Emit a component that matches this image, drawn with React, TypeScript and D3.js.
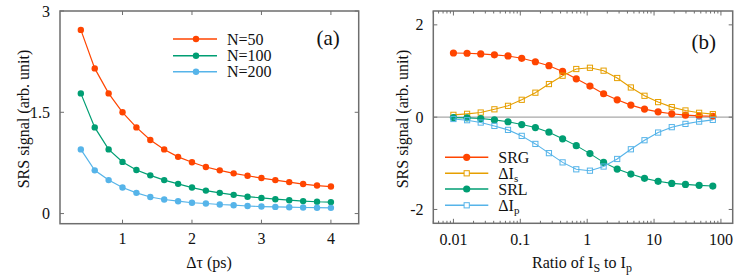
import React from "react";
import * as d3 from "d3";

// ---------- Panel (a) data ----------
const tauValues = [0.4, 0.6, 0.8, 1.0, 1.2, 1.4, 1.6, 1.8, 2.0, 2.2, 2.4, 2.6, 2.8, 3.0, 3.2, 3.4, 3.6, 3.8, 4.0];
const n50 = [2.72, 2.15, 1.78, 1.5, 1.276, 1.09, 0.95, 0.84, 0.76, 0.69, 0.64, 0.596, 0.56, 0.526, 0.496, 0.466, 0.437, 0.415, 0.4];
const n100 = [1.78, 1.276, 0.95, 0.765, 0.645, 0.566, 0.496, 0.44, 0.385, 0.34, 0.307, 0.277, 0.25, 0.232, 0.213, 0.198, 0.185, 0.175, 0.17];
const n200 = [0.95, 0.64, 0.496, 0.385, 0.307, 0.245, 0.208, 0.183, 0.16, 0.149, 0.134, 0.124, 0.112, 0.104, 0.099, 0.094, 0.09, 0.087, 0.085];
const seriesA = [
  { name: "N=50", values: n50, color: "#ff4500" },
  { name: "N=100", values: n100, color: "#009e73" },
  { name: "N=200", values: n200, color: "#56b4e9" },
];
const xTicksA = [1, 2, 3, 4];
const yTicksA = [0, 1.5, 3];
const yTickLabelsA = ["0", "1.5", "3"];

// ---------- Panel (b) data ----------
const ratioValues = [0.01, 0.016, 0.0256, 0.041, 0.0655, 0.105, 0.168, 0.268, 0.429, 0.687, 1.1, 1.76, 2.81, 4.5, 7.2, 11.5, 18.4, 29.5, 47.2, 75.6];
const srg = [1.39, 1.385, 1.37, 1.35, 1.326, 1.275, 1.2, 1.115, 0.99, 0.83, 0.674, 0.507, 0.376, 0.261, 0.174, 0.115, 0.072, 0.043, 0.028, 0.02];
const dIs = [0.05, 0.072, 0.1, 0.17, 0.245, 0.376, 0.53, 0.717, 0.898, 1.043, 1.07, 1.007, 0.848, 0.643, 0.463, 0.326, 0.217, 0.145, 0.094, 0.065];
const srl = [-0.01, -0.015, -0.03, -0.06, -0.1, -0.16, -0.226, -0.326, -0.47, -0.617, -0.79, -0.98, -1.124, -1.233, -1.326, -1.39, -1.435, -1.457, -1.478, -1.493];
const dIp = [-0.04, -0.066, -0.117, -0.19, -0.276, -0.406, -0.58, -0.78, -0.98, -1.13, -1.16, -1.07, -0.906, -0.696, -0.5, -0.334, -0.217, -0.146, -0.096, -0.059];
const seriesB = [
  { name: "SRG", sub: "", values: srg, color: "#ff4500", marker: "circle" },
  { name: "ΔI", sub: "s", values: dIs, color: "#e69f00", marker: "square" },
  { name: "SRL", sub: "", values: srl, color: "#009e73", marker: "circle" },
  { name: "ΔI", sub: "p", values: dIp, color: "#56b4e9", marker: "square" },
];
const xTicksB = [0.01, 0.1, 1, 10, 100];
const xTickLabelsB = ["0.01", "0.1", "1", "10", "100"];
const yTicksB = [-2, 0, 2];

const FONT = "Liberation Serif, Times New Roman, DejaVu Serif, serif";
const FRAME = "#6e6e6e";
const txt = { fontFamily: FONT };

export default function App() {
  // Panel (a) scales
  const ax = d3.scaleLinear().domain([0.1, 4.4]).range([60, 358.7]);
  const ay = d3.scaleLinear().domain([-0.15, 3]).range([223.7, 11]);
  const lineA = d3.line<number>().x((_, i) => ax(tauValues[i])).y((v) => ay(v));

  // Panel (b) scales
  const bx = d3.scaleLog().domain([0.005, 150]).range([433.3, 732.7]);
  const by = d3.scaleLinear().domain([-2.3, 2.3]).range([223.3, 11]);
  const lineB = d3.line<number>().x((_, i) => bx(ratioValues[i])).y((v) => by(v));

  const minorB: number[] = [];
  for (let e = -3; e <= 2; e++) {
    for (let m = 2; m <= 9; m++) {
      const v = m * Math.pow(10, e);
      if (v >= 0.005 && v <= 150) minorB.push(v);
    }
  }

  const [ax0, ax1] = ax.range();
  const [ay0, ay1] = ay.range();
  const [bx0, bx1] = bx.range();
  const [by0, by1] = by.range();

  const legendA = [39, 55.7, 71.7];
  const legendB = [157.3, 173.3, 189, 205.3];

  return (
    <svg width={747} height={280} style={{ position: "absolute", left: 0, top: 0, background: "#fff", fontFamily: FONT }}>
      {/* ---------------- Panel (a) ---------------- */}
      <g>
        {xTicksA.map((t) => (
          <g key={"xa" + t}>
            <line x1={ax(t)} x2={ax(t)} y1={ay0} y2={ay0 - 4} stroke={FRAME} strokeWidth={1} />
            <line x1={ax(t)} x2={ax(t)} y1={ay1} y2={ay1 + 4} stroke={FRAME} strokeWidth={1} />
            <text style={txt} x={ax(t)} y={244} textAnchor="middle" fontSize={16} fill="#111">{t}</text>
          </g>
        ))}
        {yTicksA.map((t, i) => (
          <g key={"ya" + t}>
            <line x1={ax0} x2={ax0 + 4} y1={ay(t)} y2={ay(t)} stroke={FRAME} strokeWidth={1} />
            <line x1={ax1} x2={ax1 - 4} y1={ay(t)} y2={ay(t)} stroke={FRAME} strokeWidth={1} />
            <text style={txt} x={50} y={ay(t)} dy="0.35em" textAnchor="end" fontSize={16} fill="#111">{yTickLabelsA[i]}</text>
          </g>
        ))}
        {seriesA.map((s) => (
          <g key={s.name}>
            <path d={lineA(s.values) || ""} fill="none" stroke={s.color} strokeWidth={1.2} />
            {s.values.map((v, i) => (
              <circle key={i} cx={ax(tauValues[i])} cy={ay(v)} r={3.2} fill={s.color} />
            ))}
          </g>
        ))}
        <rect x={ax0} y={ay1} width={ax1 - ax0} height={ay0 - ay1} fill="none" stroke={FRAME} strokeWidth={1.5} />
        {seriesA.map((s, i) => (
          <g key={"la" + s.name}>
            <line x1={173} x2={217} y1={legendA[i]} y2={legendA[i]} stroke={s.color} strokeWidth={1.6} />
            <circle cx={196} cy={legendA[i]} r={3.2} fill={s.color} />
            <text style={txt} x={227} y={legendA[i]} dy="0.35em" fontSize={16} fill="#111">{s.name}</text>
          </g>
        ))}
        <text style={txt} x={316.5} y={45} fontSize={21} fill="#111">(a)</text>
        <text style={txt} transform="translate(29,119) rotate(-90)" textAnchor="middle" fontSize={16} fill="#111">SRS signal (arb. unit)</text>
        <text style={txt} x={209} y={268} textAnchor="middle" fontSize={16} fill="#111">Δτ (ps)</text>
      </g>

      {/* ---------------- Panel (b) ---------------- */}
      <g>
        <line x1={bx0} x2={bx1} y1={by(0)} y2={by(0)} stroke="#a8a8a8" strokeWidth={1.2} />
        {minorB.map((t) => (
          <g key={"mb" + t}>
            <line x1={bx(t)} x2={bx(t)} y1={by0} y2={by0 - 2.5} stroke={FRAME} strokeWidth={1} />
            <line x1={bx(t)} x2={bx(t)} y1={by1} y2={by1 + 2.5} stroke={FRAME} strokeWidth={1} />
          </g>
        ))}
        {xTicksB.map((t, i) => (
          <g key={"xb" + t}>
            <line x1={bx(t)} x2={bx(t)} y1={by0} y2={by0 - 4.5} stroke={FRAME} strokeWidth={1} />
            <line x1={bx(t)} x2={bx(t)} y1={by1} y2={by1 + 4.5} stroke={FRAME} strokeWidth={1} />
            <text style={txt} x={bx(t)} y={244.5} textAnchor="middle" fontSize={16} fill="#111">{xTickLabelsB[i]}</text>
          </g>
        ))}
        {yTicksB.map((t) => (
          <g key={"yb" + t}>
            <line x1={bx0} x2={bx0 + 4} y1={by(t)} y2={by(t)} stroke={FRAME} strokeWidth={1} />
            <line x1={bx1} x2={bx1 - 4} y1={by(t)} y2={by(t)} stroke={FRAME} strokeWidth={1} />
            <text style={txt} x={423.5} y={by(t)} dy="0.35em" textAnchor="end" fontSize={16} fill="#111">{t}</text>
          </g>
        ))}
        {seriesB.map((s, si) => (
          <g key={"sb" + si}>
            <path d={lineB(s.values) || ""} fill="none" stroke={s.color} strokeWidth={1.1} />
            {s.values.map((v, i) =>
              s.marker === "circle" ? (
                <circle key={i} cx={bx(ratioValues[i])} cy={by(v)} r={3.6} fill={s.color} />
              ) : (
                <rect key={i} x={bx(ratioValues[i]) - 2.6} y={by(v) - 2.6} width={5.2} height={5.2} fill="none" stroke={s.color} strokeWidth={1} />
              )
            )}
          </g>
        ))}
        <rect x={bx0} y={by1} width={bx1 - bx0} height={by0 - by1} fill="none" stroke={FRAME} strokeWidth={1.5} />
        {seriesB.map((s, i) => (
          <g key={"lb" + i}>
            <line x1={445} x2={488.3} y1={legendB[i]} y2={legendB[i]} stroke={s.color} strokeWidth={1.6} />
            {s.marker === "circle" ? (
              <circle cx={466.7} cy={legendB[i]} r={3.6} fill={s.color} />
            ) : (
              <rect x={466.7 - 2.6} y={legendB[i] - 2.6} width={5.2} height={5.2} fill="#fff" stroke={s.color} strokeWidth={1} />
            )}
            <text style={txt} x={498.3} y={legendB[i]} dy="0.35em" fontSize={16} fill="#111">
              {s.name}
              {s.sub ? <tspan fontSize={11} dy="3.5">{s.sub}</tspan> : null}
            </text>
          </g>
        ))}
        <text style={txt} x={691.5} y={49} fontSize={21} fill="#111">(b)</text>
        <text style={txt} transform="translate(408,119) rotate(-90)" textAnchor="middle" fontSize={16} fill="#111">SRS signal (arb. unit)</text>
        <text style={txt} x={582} y={268} textAnchor="middle" fontSize={16} fill="#111">
          Ratio of I<tspan fontSize={12} dy="4">S</tspan>
          <tspan dy="-4"> to I</tspan>
          <tspan fontSize={12} dy="4">p</tspan>
        </text>
      </g>
    </svg>
  );
}
